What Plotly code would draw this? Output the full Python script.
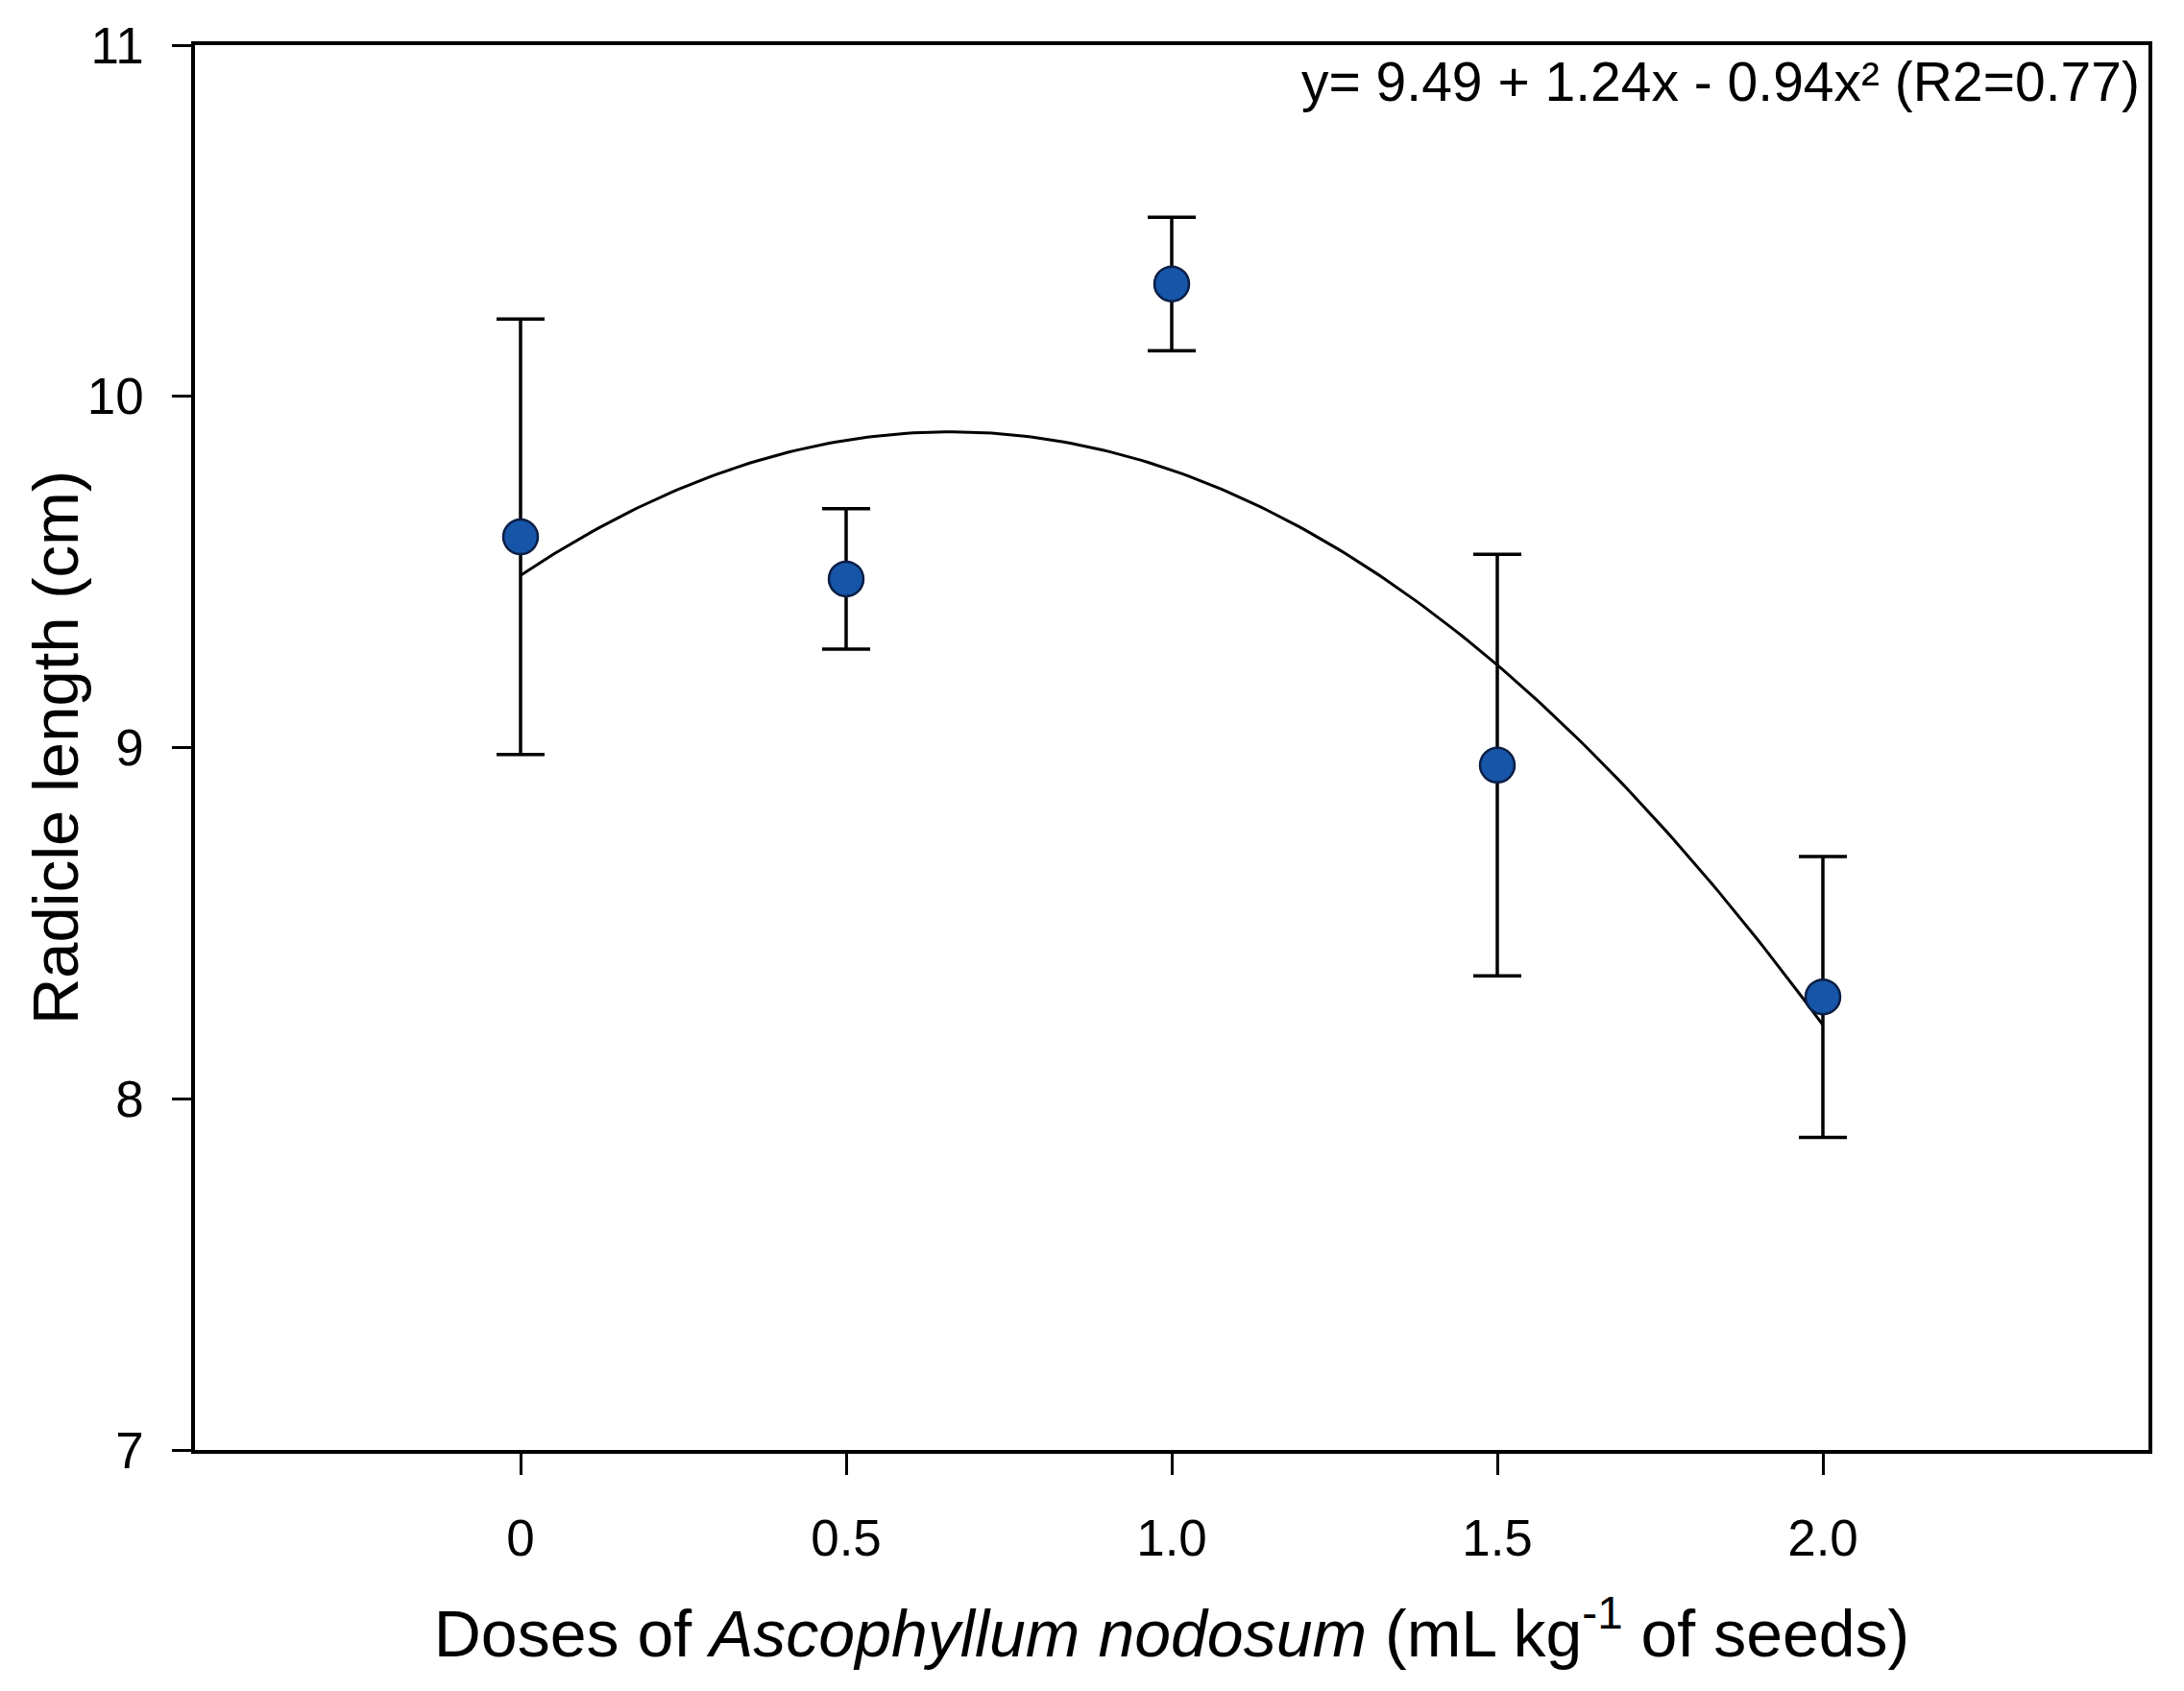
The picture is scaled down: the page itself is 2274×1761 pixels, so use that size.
import numpy as np
import plotly.graph_objects as go

# Data
doses = [0, 0.5, 1.0, 1.5, 2.0]
radicle_length = [9.60, 9.48, 10.32, 8.95, 8.29]
std_error = [0.62, 0.20, 0.19, 0.60, 0.40]

# Regression coefficients shown in the chart: y = b0 + b1 x + b2 x^2
coef = [9.49, 1.24, -0.94]
equation_text = "y= 9.49 + 1.24x - 0.94x² (R2=0.77)"

x_tickvals = [0, 0.5, 1.0, 1.5, 2.0]
x_ticktext = ["0", "0.5", "1.0", "1.5", "2.0"]
y_tickvals = [7, 8, 9, 10, 11]

xfit = np.linspace(min(doses), max(doses), 200)
yfit = coef[0] + coef[1] * xfit + coef[2] * xfit ** 2

FONT = "Arial, Liberation Sans, sans-serif"

fig = go.Figure()
fig.add_trace(go.Scatter(
    x=xfit, y=yfit, mode="lines",
    line=dict(color="black", width=3),
    showlegend=False, hoverinfo="skip",
))
fig.add_trace(go.Scatter(
    x=doses, y=radicle_length, mode="markers",
    marker=dict(size=36, color="#1655A8", line=dict(color="#0B1E45", width=2.5)),
    error_y=dict(type="data", array=std_error, visible=True,
                 color="black", thickness=3.5, width=25),
    showlegend=False,
))

fig.add_annotation(
    text=equation_text, xref="paper", yref="paper",
    x=0.9965, y=0.997, xanchor="right", yanchor="top",
    showarrow=False, font=dict(family=FONT, size=57, color="black"),
)
# y-axis title
fig.add_annotation(
    text="Radicle length (cm)", xref="paper", yref="paper",
    x=-0.0715, y=0.5, xanchor="center", yanchor="middle", textangle=-90,
    showarrow=False, font=dict(family=FONT, size=67, color="black"),
)

fig.update_layout(
    width=2274, height=1761,
    margin=dict(l=203, r=37, t=47, b=251),
    paper_bgcolor="white", plot_bgcolor="white",
    font=dict(family=FONT, color="black"),
)
fig.update_xaxes(
    range=[-0.5, 2.5],
    tickvals=x_tickvals, ticktext=x_ticktext,
    ticks="outside", ticklen=22, tickwidth=3, tickcolor="black",
    showline=True, linecolor="black", linewidth=3.5, mirror=True,
    showgrid=False, zeroline=False,
    tickfont=dict(family=FONT, size=53),
    ticklabelstandoff=21,
    title=dict(text="Doses of <i>Ascophyllum nodosum</i> (mL kg<sup>-1</sup> of seeds)",
               font=dict(family=FONT, size=68), standoff=48),
)
fig.update_yaxes(
    range=[7, 11],
    tickvals=y_tickvals,
    ticks="outside", ticklen=20, tickwidth=3, tickcolor="black",
    showline=True, linecolor="black", linewidth=3.5, mirror=True,
    showgrid=False, zeroline=False,
    tickfont=dict(family=FONT, size=53),
    ticklabelstandoff=19,
)

fig.write_html("out.html")
